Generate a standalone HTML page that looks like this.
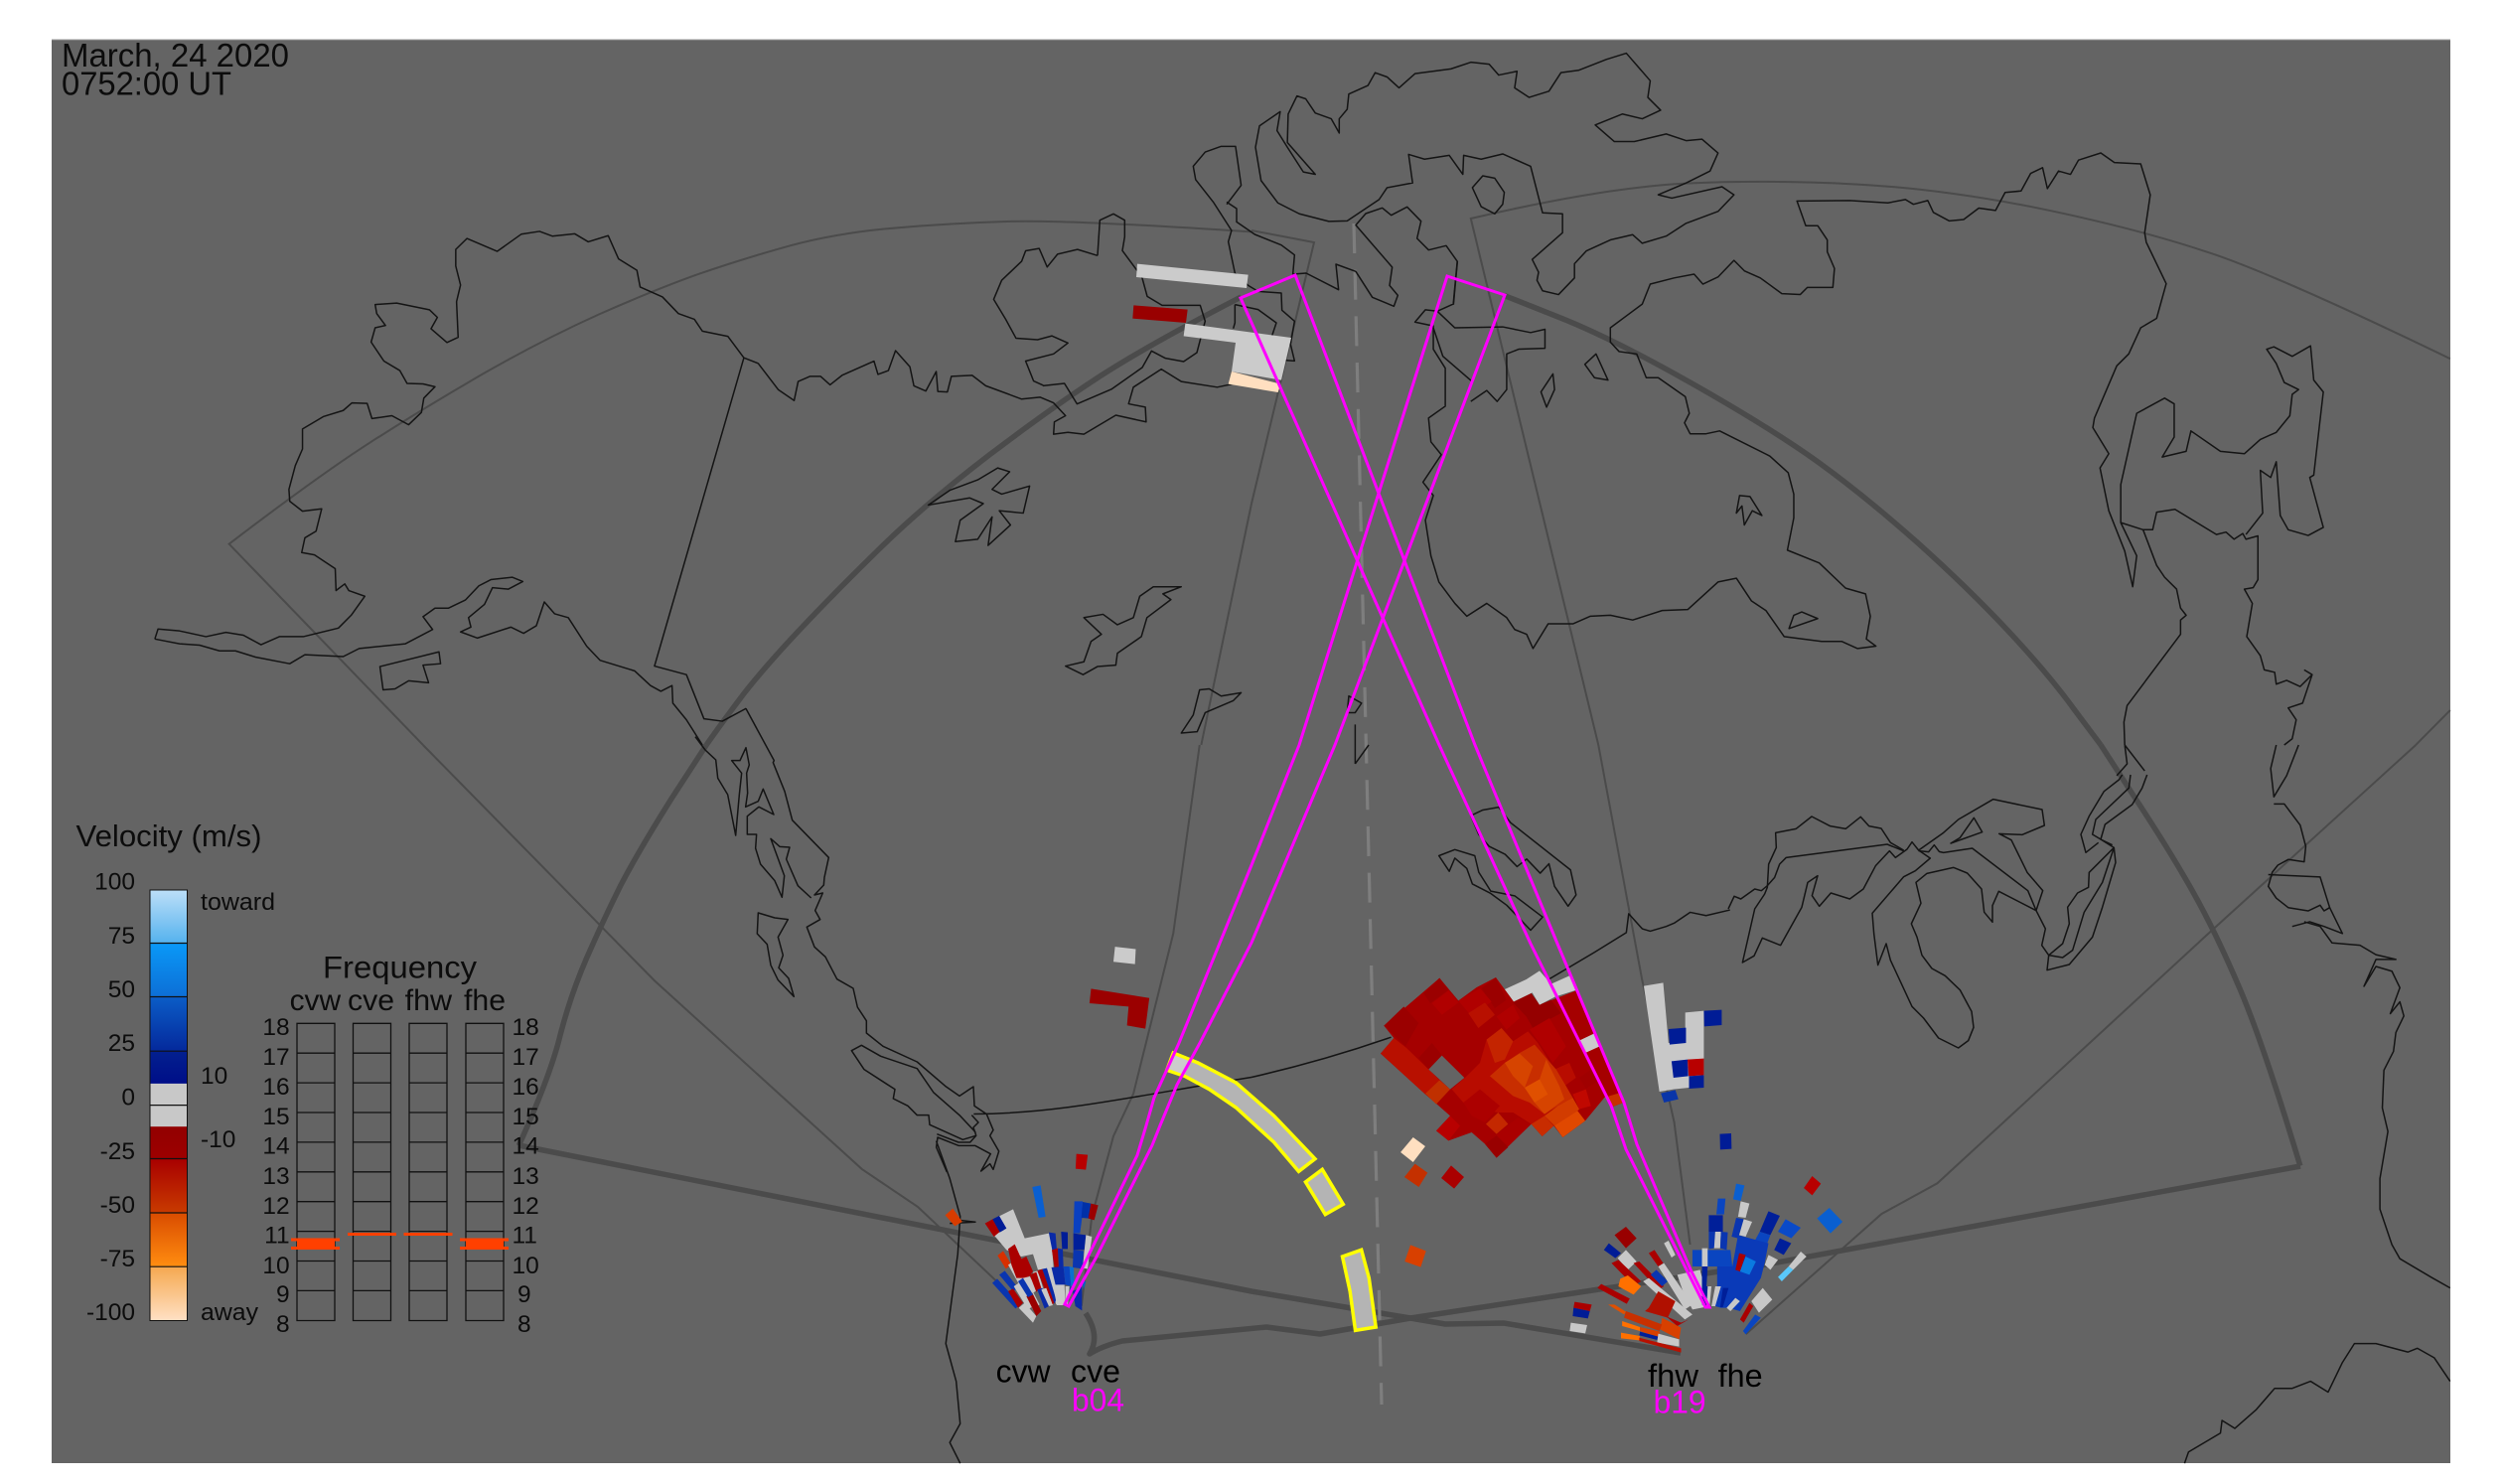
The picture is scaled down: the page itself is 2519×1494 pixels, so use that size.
<!DOCTYPE html>
<html><head><meta charset="utf-8"><title>Velocity map</title>
<style>
html,body{margin:0;padding:0;background:#fff}
svg{display:block}
path,polygon,polyline,rect{vector-effect:non-scaling-stroke}
.c path,.c polygon{fill:none;stroke:#141414;stroke-width:1.5;stroke-linejoin:round}
.t path{fill:none;stroke:#4b4b4b;stroke-width:2}
.k{fill:none;stroke:#4b4b4b;stroke-width:5.5;stroke-linejoin:round}
.y polygon{fill:#b4b4b4;stroke:#ffff00;stroke-width:3.5}
.m{fill:none;stroke:#ff00ff;stroke-width:3;stroke-linejoin:miter}
text{font-family:"Liberation Sans",sans-serif;fill:#0c0c0c}
.l{font-size:24.5px}
.rt{text-anchor:end}
</style></head><body>
<svg xmlns="http://www.w3.org/2000/svg" width="2519" height="1494" viewBox="0 0 2519 1494">
<defs>
<linearGradient id="cb" x1="0" y1="0" x2="0" y2="1">
<stop offset="0" stop-color="#bcdff8"/><stop offset=".124" stop-color="#55b2ee"/>
<stop offset=".125" stop-color="#0a98f7"/><stop offset=".248" stop-color="#0d6fd6"/>
<stop offset=".25" stop-color="#0b5cc6"/><stop offset=".373" stop-color="#04299c"/>
<stop offset=".375" stop-color="#02208f"/><stop offset=".449" stop-color="#000e88"/>
<stop offset=".45" stop-color="#c8c8c8"/><stop offset=".549" stop-color="#c8c8c8"/>
<stop offset=".55" stop-color="#920000"/><stop offset=".624" stop-color="#9d0000"/>
<stop offset=".625" stop-color="#a80000"/><stop offset=".748" stop-color="#c83a00"/>
<stop offset=".75" stop-color="#d94c00"/><stop offset=".873" stop-color="#ff8c10"/>
<stop offset=".875" stop-color="#f5a850"/><stop offset="1" stop-color="#ffe0c4"/>
</linearGradient>
</defs>
<rect width="2519" height="1494" fill="#fff"/>
<rect x="52" y="40" width="2415" height="1433" fill="#646464"/>
<rect x="52" y="39.5" width="2415" height="1" fill="#9a9a9a"/>

<!-- thin FOV lines -->
<g class="t">
<g transform="scale(.80357,.4783)">
<path d="M1568 488 Q1345 463 1267 466 Q1190 470 1120 480 Q1050 490 990 517 Q930 545 875 577 Q820 610 750 662 Q680 715 605 787 Q530 860 465 930 Q400 1000 287 1145 L530 1568"/>
<path d="M1568 1060 L1505 1568"/>
</g>
<g transform="translate(0,750) scale(.80357,.4745)">
<path d="M530 0 L820 500 L1080 900 L1150 980 L1250 1140"/>
<path d="M1503 0 L1470 400 L1420 740 L1395 830 L1368 1000 L1355 1190"/>
</g>
<path d="M1260 232 L1323 244 L1260 507"/>
<g transform="translate(1260,0) scale(.8029,.4783)">
<path d="M435 1568 L275 460 Q440 395 545 386 Q650 378 760 388 Q870 398 995 441 Q1120 485 1210 537 Q1300 590 1503 755"/>
<path d="M1503 1495 L1460 1568"/>
</g>
<g transform="translate(1260,750) scale(.8029,.4745)">
<path d="M435 0 L490 500 L530 800 L550 1060"/>
<path d="M1460 0 L1200 400 L860 930 L790 995 L620 1250"/>
</g>
</g>

<!-- thick FOV lines -->
<g transform="scale(.80357,.4783)"><path class="k" d="M1555 625 Q1440 725 1380 790 Q1320 855 1240 957 Q1160 1060 1105 1150 Q1050 1240 1005 1320 Q960 1400 932 1460 Q905 1520 885 1568"/></g>
<g transform="translate(0,750) scale(.80357,.4745)"><path class="k" d="M885 0 L842 112 Q800 225 777 300 Q755 375 735 452 Q715 530 702 615 Q690 700 650 850"/></g>
<path class="k" d="M522 1153 L1260 1300 L1420 1327 L1455 1333 L1514 1332 L1692 1362"/>
<g transform="translate(1260,0) scale(.8029,.4783)"><path class="k" d="M317 622 L383 666 Q450 710 550 805 Q650 900 710 972 Q770 1045 835 1142 Q900 1240 950 1330 Q1000 1420 1032 1494 L1065 1568"/></g>
<g transform="translate(1260,750) scale(.8029,.4745)"><path class="k" d="M1065 0 L1107 110 Q1150 220 1180 310 Q1210 400 1240 520 Q1270 640 1315 893"/></g>
<path class="k" d="M2316 1174 L1778 1273 L1610 1298 L1420 1327 L1386 1333 L1329 1343 L1275 1336 L1130 1350 Q1110 1355 1097 1363 Q1108 1345 1093 1322"/>

<!-- center dash -->
<path d="M1363 225 L1391 1414" fill="none" stroke="#7e7e7e" stroke-width="3.2" stroke-dasharray="30 16.7"/>

<!-- coastlines -->
<g class="c">
<g transform="scale(.80357,.4783)">
<path d="M194 1345 L198 1324 L225 1328 L258 1340 L283 1331 L305 1337 L327 1357 L350 1340 L380 1340 L424 1322 L440 1295 L457 1255 L437 1243 L432 1229 L421 1243 L420 1197 L394 1168 L378 1163 L382 1132 L396 1118 L403 1071 L379 1076 L363 1055 L362 1030 L370 980 L379 945 L379 903 L405 877 L430 864 L441 848 L460 849 L466 881 L491 875 L512 894 L528 868 L531 838 L545 814 L530 808 L510 807 L501 780 L481 760 L465 720 L470 690 L483 685 L472 660 L470 641 L497 638 L538 652 L548 668 L540 692 L560 721 L574 710 L572 635 L577 600 L571 560 L571 525 L585 502 L623 529 L653 493 L676 487 L692 497 L720 492 L737 509 L762 496 L775 545 L798 569 L802 604 L830 625 L850 660 L870 672 L880 697 L912 708 L932 753 L950 765 L975 820 L995 843 L1000 803 L1015 792 L1028 792 L1040 810 L1055 790 L1095 760 L1100 788 L1113 780 L1122 738 L1140 772 L1145 812 L1160 823 L1173 782 L1175 824 L1187 825 L1192 792 L1218 790 L1235 812 L1280 840 L1303 836 L1320 848 L1335 875 L1321 888 L1320 914 L1338 910 L1358 914 L1398 874 L1436 888 L1435 857 L1414 850 L1420 815 L1455 777 L1480 803 L1525 815 L1568 800"/>
<path d="M194 1345 L225 1355 L250 1358 L275 1370 L295 1370 L320 1383 L363 1397 L382 1378 L430 1382 L450 1365 L508 1355 L542 1325 L530 1298 L545 1280 L562 1280 L583 1263 L600 1233 L615 1220 L642 1215 L655 1224 L637 1240 L617 1237 L607 1272 L587 1300 L590 1320 L577 1330 L598 1343 L640 1320 L656 1333 L672 1317 L682 1267 L695 1292 L712 1300 L735 1360 L752 1390 L795 1412 L815 1443 L828 1455 L842 1443 L843 1480 L860 1515 L880 1568"/>
<path d="M932 753 L820 1402 L860 1420 L882 1513 L905 1518 L935 1491"/>
<path d="M1250 985 L1265 993 L1243 1030 L1255 1040 L1290 1023 L1282 1080 L1252 1075 L1266 1105 L1238 1148 L1243 1088 L1225 1135 L1197 1140 L1203 1095 L1232 1060 L1215 1048 L1163 1063 L1190 1032 L1225 1010 Z"/>
<path d="M1445 1235 L1480 1235 L1457 1250 L1467 1262 L1437 1300 L1430 1340 L1400 1375 L1398 1400 L1375 1403 L1357 1420 L1335 1402 L1358 1393 L1367 1350 L1380 1335 L1358 1300 L1382 1293 L1400 1315 L1420 1300 L1428 1255 Z"/>
<path d="M1503 1452 L1515 1450 L1530 1465 L1555 1458 L1545 1475 L1510 1500 L1500 1540 L1480 1543 L1495 1505 Z"/>
<path d="M476 1403 L550 1372 L552 1397 L530 1400 L537 1437 L512 1433 L495 1450 L480 1452 Z"/>
<path d="M1537 430 L1555 390 L1548 308 L1530 308 L1510 320 L1495 350 L1498 378 L1520 425 L1543 485"/>
<path d="M1307 811 L1295 802 L1285 760 L1320 745 L1338 722 L1318 707 L1300 715 L1273 712 L1260 672 L1245 630 L1255 590 L1280 550 L1285 528 L1302 523 L1312 562 L1325 535 L1350 525 L1375 538"/>
</g>
<g transform="translate(1050,200) scale(.33333)">
<path d="M165 172 L172 65 L213 46 L247 65 L247 115 L240 157 L283 215 L300 240 L315 295 L360 322 L475 322 L490 370 L465 465 L425 492 L370 482 L328 460 L300 510 L208 575 L103 620 L65 558 L0 565"/>
<path d="M570 95 L560 130 L580 225 L620 262 L650 280 L720 285 L722 337 L760 370 L748 440 L760 490 L720 487"/>
<path d="M555 10 L585 30 L585 70 L640 108 L720 140 L760 170 L755 228 L795 225 L893 275 L885 198 L945 220 L995 298 L1060 325 L1072 292 L1047 262 L1055 207 L945 80 L975 45 L1025 28 L1052 50 L1100 25 L1142 68 L1130 120 L1165 155 L1218 142 L1252 190 L1240 320"/>
<path d="M580 320 L580 375 L575 392 M580 320 L650 335 L705 375 L690 420"/>
</g>
<g transform="translate(1260,0) scale(.8029,.4783)">
<path d="M120 465 L97 466 L60 450 L33 427 L12 380 L5 310 L10 265 L36 235 L32 275 L45 310 L65 362 L80 367 L45 300 L46 240 L57 202 L68 208 L80 238 L100 250 L110 280 L110 250 L120 230 L122 198 L146 180 L155 153 L170 162 L185 185 L205 155 L250 145 L275 131 L298 135 L310 158 L333 150 L330 185 L348 205 L373 192 L388 153 L410 148 L445 125 L470 112 L500 170 L497 205 L513 232 L490 250 L465 240 L431 263 L455 298 L480 298 L520 282 L545 296 L565 293 L585 322 L575 360 L545 385 L510 410 L527 417 L590 393 L605 410 L585 445 L545 470 L520 497 L490 512 L478 494 L450 505 L420 528 L405 555 L405 585 L385 620 L365 612 L358 590 L360 573 L352 546 L390 490 L390 450 L365 448 L350 350 L315 324 L288 335 L266 327 L265 367 L248 327 L217 335 L197 325 L202 385 L170 395 L160 420 Z"/>
<path d="M258 550 L253 640 L233 655 L218 652 L205 678 L228 686 L228 735 L243 775 L243 855 L222 880 L225 930 L238 957 L215 1015 L228 1043 L218 1095 L225 1170 L235 1225 L255 1270 L270 1297 L295 1270 L320 1300 L330 1325 L345 1335 L353 1365 L372 1313 L403 1313 L425 1297 L450 1295 L478 1305 L515 1285 L547 1283 L585 1225 L608 1217 L627 1265 L645 1285 L668 1340 L715 1350 L740 1350 L760 1365 L783 1360 L771 1345 L776 1297 L770 1250 L745 1238 L712 1185 L672 1158 L680 1090 L680 1040 L673 995 L650 960 L587 907 L570 913 L550 913 L543 890 L549 870 L544 835 L510 795 L495 795 L483 745 L461 740 L450 720 L450 690 L470 665 L490 640 L500 598 L530 585 L555 577 L566 598 L585 583 L605 548 L618 570 L638 585 L665 618 L688 620 L697 605 L729 605 L731 565 L722 530 L722 505 L710 475 L695 475 L684 423 L750 422 L798 427 L820 420 L830 430 L848 422 L855 447 L875 465 L893 462 L912 438 L933 443 L945 405 L965 402 L977 365 L992 353 L998 397 L1012 360 L1027 367 L1037 337 L1065 322 L1082 342 L1115 345 L1127 410 L1120 490 L1122 510 L1147 597 L1135 670 L1115 690 L1100 745 L1085 770 L1057 880 L1055 900 L1075 955 L1064 985 L1075 1075 L1095 1160 L1105 1235 L1110 1170 L1090 1100 L1090 1020 L1110 870 L1145 838 L1157 850 L1157 920 L1142 962 L1172 950 L1178 907 L1215 950 L1245 955 L1265 925 L1285 910 L1302 875 L1305 830 L1313 820 L1295 805 L1285 765 L1273 735 L1282 730 L1305 750 L1328 728 L1332 800 L1344 825 L1332 1000 L1327 1005 L1344 1110 L1325 1127 L1300 1115 L1290 1085 L1285 972 L1278 1005 L1265 990 L1268 1080 L1247 1125"/>
<path d="M1090 1100 L1118 1115 L1130 1115 L1135 1078 L1158 1072 L1210 1125 L1222 1120 L1232 1135 L1243 1123 L1247 1135 L1262 1128 L1262 1220 L1256 1237 L1245 1240 L1255 1270 L1248 1340 L1265 1380 L1270 1410 L1283 1415 L1285 1440 L1298 1432 L1315 1445 L1330 1420 L1320 1410 M1330 1420 L1322 1460 L1318 1480 L1300 1490 L1310 1515 L1305 1555 L1295 1568"/>
<path d="M1118 1115 L1135 1190 L1145 1215 L1160 1240 L1165 1280 L1172 1295 L1165 1305 L1165 1335 L1098 1485 L1094 1520 L1095 1568"/>
<path d="M233 655 L255 690 L315 688 L350 700 L368 693 L368 733 L335 735 L320 745 L320 820 L308 845 L295 822 L275 845 M228 690 L240 750 L278 805"/>
<path d="M290 370 L305 375 L317 405 L315 430 L305 450 L288 435 L277 395 Z"/>
<path d="M432 745 L447 800 L430 795 L418 767 Z"/>
<path d="M378 787 L380 820 L370 857 L363 825 Z"/>
<path d="M612 1043 L625 1045 L640 1085 L628 1075 L618 1105 L615 1065 L608 1080 Z"/>
<path d="M690 1288 L710 1302 L674 1323 L680 1295 Z"/>
<path d="M122 1465 L120 1500 L130 1500 L138 1480 Z M130 1525 L130 1568"/>
</g>
<!-- BC coast -->
<g transform="translate(700,700) scale(.33333)">
<path d="M153 40 L238 197 L235 203 L270 290 L293 377 L403 490 L390 550 L388 573 L360 603 L385 597 L362 650 L377 677 L337 700 L360 760 L393 790 L428 857 L477 885 L490 942 L517 983 L517 1020 L567 1060 L670 1107 L755 1180 L798 1210 L840 1182 L843 1240 L880 1265 L900 1313 L890 1330 L917 1377 L900 1432 L890 1415 L863 1437 L892 1385 L845 1360 L795 1360 L732 1335 L728 1365 L760 1440"/>
<path d="M0 125 L30 165 L62 195 L68 250 L98 300 L122 423 L133 300 L140 235 L110 197 L135 197 L153 158 L163 210 L155 235 L158 295 L152 337 L190 320 L205 283 L237 360 L192 337 L157 365 L157 420 L185 420 L182 462 L197 510 L240 560 L262 610 L269 545 L228 433 L255 457 L285 459 L275 495 L310 575 L350 612"/>
<path d="M190 657 L240 672 L280 677 L250 730 L265 785 L252 823 L282 855 L298 910 L250 860 L228 815 L217 752 L187 720 Z"/>
<path d="M472 1073 L502 1057 L560 1090 L670 1127 L720 1200 L800 1270 L845 1318 L848 1330 L808 1342 L708 1297 L705 1268 L670 1268 L642 1240 L598 1218 L603 1190 L510 1130 Z"/>
<path d="M835 1268 L855 1290 L840 1305 L845 1320 M730 1325 L795 1350 L830 1350 L848 1330"/>
</g>
<g transform="translate(0,750) scale(.80357,.4745)">
<path d="M1173 840 L1190 920 L1203 1000 L1200 1080 L1185 1270 L1198 1350 L1203 1440 L1190 1480 L1203 1524"/>
<path d="M1220 783 C1330 782 1420 745 1568 705"/>
<path d="M1200 1008 L1222 1012 L1190 1015"/>
</g>
<!-- Great lakes -->
<g transform="translate(1740,780) scale(.33333)">
<path d="M0 405 L18 367 L38 375 L80 345 L100 350 L118 335 L140 310 L155 270 L175 250 L480 210 L530 230"/>
<path d="M530 228 L490 205 L462 162 L425 155 L400 127 L355 163 L308 155 L252 126 L205 163 L143 175 L145 220 L122 270 L118 340 L110 360 L80 405 L43 567 L78 547 L103 493 L158 515 L222 400 L240 325 L270 305 L253 365 L275 397 L310 357 L367 375 L408 345 L445 275 L487 230 L505 250 L540 225 L555 203 L575 228 L610 252 L565 290 L530 308 L435 418 L440 480 L452 575 L477 510 L490 560 L555 700 L590 735 L635 795 L695 825 L725 803 L741 763 L735 715 L700 650 L655 607 L615 585 L585 545 L570 490 L553 450 L582 388 L567 325 L600 298 L680 280 L722 297 L765 345 L773 415 L798 445 L798 395 L817 352 L930 410 L950 350 L903 295 L855 197 L818 178 L888 181 L955 153 L948 105 L800 74 L695 135 L650 175 L575 228"/>
<path d="M672 207 L700 190 L742 130 L767 173 Z"/>
<path d="M575 230 L605 233 L622 212 L637 232 L650 235 L737 222 L905 350 L930 410 L958 465 L947 515 L968 545 L1010 552 L1040 530 L1075 415 L1130 325 L1165 220 L1170 265 L1130 400 L1100 490 L1030 573 L963 590 L968 545 L1010 510 L1030 450 L1025 400 L1055 357 L1088 340 L1090 295 L1165 220 L1125 195 L1100 180 L1110 135 L1210 40 L1215 0"/>
<path d="M1160 212 L1125 195 L1138 150 L1220 90 L1250 40 L1265 0"/>
<path d="M1118 205 L1080 235 L1065 180 L1090 125 L1135 50 L1180 15 L1190 0"/>
</g>
<g transform="translate(1260,750) scale(.8029,.4745)">
<path d="M0 705 Q90 670 175 620 M370 500 L430 440 L470 398 L473 358 L490 390 L500 395 L520 385 L530 378 L550 355 L570 362 L600 350"/>
<path d="M1095 0 L1120 55 M1095 0 L1098 40 L1085 65"/>
<path d="M1285 0 L1278 50 L1282 110 L1298 65 L1313 0"/>
<path d="M1282 125 L1295 125 L1315 170 L1322 215 L1320 248 L1300 243 L1287 255 L1280 270 L1275 300 L1285 325 L1300 345 L1325 352 L1340 340 L1345 352 L1352 345 L1368 400 L1345 385 L1327 375 L1305 385"/>
<path d="M1275 275 L1340 280 L1352 345"/>
<path d="M1320 375 L1340 385 L1355 420 L1390 425 L1410 445 L1435 455 L1410 455 L1395 512 L1410 470 L1430 480 L1440 515 L1428 570 L1440 545 L1445 575 L1435 610 L1432 650 L1420 690 L1418 770 L1425 820 L1415 920 L1415 985 L1430 1060 L1440 1090 L1480 1130 L1503 1152"/>
<path d="M1170 1524 L1175 1500 L1215 1460 L1217 1433 L1233 1450 L1260 1410 L1283 1365 L1305 1365 L1328 1350 L1350 1373 L1368 1310 L1383 1270 L1410 1270 L1450 1288 L1462 1280 L1483 1300 L1503 1350"/>
<path d="M275 150 L290 138 L310 132 L325 165 L400 265 L407 318 L397 342 L380 300 L373 252 L362 272 L345 242 L333 258 L318 232 L298 215 L285 190 Z"/>
<path d="M235 235 L255 222 L280 235 L285 270 L300 310 L330 320 L365 365 L350 393 L320 340 L300 315 L277 295 L270 262 L255 240 L248 268 Z"/>
<path d="M130 40 L147 0 M130 0 L130 40"/>
</g>
</g>

<!-- top cells -->
<g transform="translate(1050,200) scale(.33333)">
<polygon fill="#cbcbcb" points="285,197 620,230 615,270 282,237"/>
<polygon fill="#990000" points="274,322 437,335 432,375 271,362"/>
<polygon fill="#cbcbcb" points="430,377 750,420 720,548 570,522 582,435 425,415"/>
<polygon fill="#ffdfc0" points="570,522 718,560 710,585 560,560"/>
</g>
<g transform="translate(0,750) scale(.80357,.4745)">
<polygon fill="#cbcbcb" points="1397,428 1423,433 1422,465 1395,460"/>
<polygon fill="#9b0000" points="1367,517 1440,537 1435,602 1412,595 1414,555 1365,548"/>
</g>

<!-- yellow boxes -->
<g class="y" transform="translate(900,1050) scale(.38265,.33333)">
<polygon points="735,30 800,60 900,120 1000,220 1108,350 1065,388 1000,300 900,195 830,140 765,100 718,82"/>
<polygon points="1127,382 1182,487 1135,518 1083,420"/>
<polygon points="1180,645 1230,625 1250,710 1268,858 1214,868 1200,750"/>
<polygon style="stroke:none;fill:#cccccc" points="735,36 780,56 765,96 722,78"/>
</g>

<!-- cve / cvw fan -->
<g transform="translate(900,1050) scale(.38265,.33333)">
<polygon fill="#b80000" points="480,335 510,338 505,383 478,380"/>
<polygon fill="#d83c00" points="135,520 155,500 180,540 160,553"/>
</g>
<g transform="translate(980,1190) scale(.33333)">
<polygon fill="#0a5fd0" points="178,15 203,10 218,105 197,108"/>
<polygon fill="#0a40c0" points="305,58 330,58 328,110 322,155 302,155"/>
<polygon fill="#0030a8" points="330,60 355,65 350,110 326,108"/>
<polygon fill="#9b0000" points="355,65 377,70 365,115 347,110"/>
<polygon fill="#001f99" points="302,155 340,160 335,205 302,205"/>
<polygon fill="#c8c8c8" points="340,160 358,165 345,262 330,260"/>
<polygon fill="#0a35b0" points="302,205 333,208 330,262 300,258"/>
<polygon fill="#0a2aa6" points="228,152 248,155 252,205 235,205"/>
<polygon fill="#001c96" points="265,150 285,152 285,202 268,202"/>
<polygon fill="#c8c8c8" points="78,103 120,82 155,170 228,155 238,205 242,258 195,265 180,218 145,225 100,205 62,160 92,145"/>
<polygon fill="#aa0000" points="35,125 58,112 80,150 62,165"/>
<polygon fill="#001c96" points="58,112 78,102 100,140 80,152"/>
<polygon fill="#d83000" points="73,222 90,208 115,250 98,262"/>
<polygon fill="#c8c8c8" points="105,250 130,235 200,370 180,385"/>
<polygon fill="#aa0000" points="105,202 125,188 145,232 160,225 180,270 165,290 130,290 115,250"/>
<polygon fill="#aa0000" points="237,205 255,200 258,258 245,258"/>
<polygon fill="#0a2aa6" points="255,200 270,203 272,255 258,258"/>
<polygon fill="#0a2aa6" points="232,258 272,255 278,310 245,315"/>
<polygon fill="#0a45c0" points="272,255 290,255 295,315 278,310"/>
<polygon fill="#0a70d0" points="290,255 303,258 305,310 295,315"/>
<polygon fill="#c8c8c8" points="220,260 235,255 262,370 250,370"/>
<polygon fill="#c8c8c8" points="180,272 195,268 222,360 212,368"/>
<polygon fill="#aa0000" points="193,268 208,263 245,365 235,372"/>
<polygon fill="#0a2aa6" points="208,263 222,260 250,355 245,368"/>
<polygon fill="#0a35b0" points="57,305 72,292 142,370 127,382"/>
<polygon fill="#0a35b0" points="78,280 95,268 135,320 120,330"/>
<polygon fill="#c8c8c8" points="122,315 137,305 180,375 165,385"/>
<polygon fill="#aa0000" points="105,330 120,322 150,365 135,380"/>
<polygon fill="#c8c8c8" points="137,380 155,365 190,405 180,425"/>
<polygon fill="#9b0000" points="160,345 178,335 205,390 190,405"/>
<polygon fill="#0a35b0" points="135,300 150,290 180,340 165,348"/>
<polygon fill="#c8c8c8" points="150,290 170,285 195,325 180,335"/>
<polygon fill="#aa0000" points="170,280 190,272 205,320 190,332"/>
<polygon fill="#0a2aa6" points="193,325 208,320 228,375 215,382"/>
<polygon fill="#c8c8c8" points="205,325 220,320 240,372 228,375"/>
<polygon fill="#c8c8c8" points="240,310 275,310 278,372 252,372"/>
<polygon fill="#c8c8c8" points="278,315 290,315 285,370 278,370"/>
<polygon fill="#0a35b0" points="292,315 300,318 290,345 288,370"/>
<polygon fill="#0a2aa6" points="300,330 328,315 328,388 308,375"/>
<polygon fill="#0a60c0" points="328,300 340,300 333,325"/>
</g>

<!-- red blob -->
<g transform="translate(1380,970) scale(.33333)">
<polygon fill="#a50000" points="40,188 208,44 265,112 320,72 378,42 432,115 485,90 510,125 625,80 768,418 725,435 710,400 648,475 580,525 553,490 518,522 485,485 380,587 345,545 305,510 235,535 198,505 240,460 200,425 165,395 30,272 70,225"/>
<polygon fill="#9b0000" points="40,188 100,130 145,180 105,250"/>
<polygon fill="#9b0000" points="160,90 208,44 235,80 180,120"/>
<polygon fill="#950000" points="430,118 485,90 510,125 545,110 575,150 490,195 470,160"/>
<polygon fill="#9b0000" points="335,75 378,42 410,110 375,135"/>
<polygon fill="#b00000" points="185,120 235,82 265,118 215,155"/>
<polygon fill="#b00000" points="265,112 330,75 365,115 305,160"/>
<polygon fill="#b81000" points="295,150 345,118 375,155 325,195"/>
<polygon fill="#b00000" points="380,160 430,125 450,165 410,200"/>
<polygon fill="#b81000" points="30,272 70,225 108,255 175,320 208,352 165,395"/>
<polygon fill="#9b0000" points="145,285 185,240 218,280 175,320"/>
<polygon fill="#c03000" points="208,352 240,380 198,425 165,393"/>
<polygon fill="#b80000" points="240,460 270,490 235,535 198,505"/>
<polygon fill="#b00000" points="480,200 540,165 590,250 550,300 510,240"/>
<polygon fill="#b80c00" points="245,380 285,345 330,300 350,230 395,195 430,235 475,205 505,240 555,320 600,300 620,345 585,370 610,405 560,430 525,460 485,485 430,450 385,450 320,440 280,420"/>
<polygon fill="#ac0000" points="280,420 330,380 390,430 345,480 305,460"/>
<polygon fill="#c42400" points="350,230 395,195 430,235 405,290 375,300"/>
<polygon fill="#c82e00" points="360,340 405,300 450,270 495,245 560,320 590,370 610,405 565,430 525,455 480,420 430,400"/>
<polygon fill="#d64400" points="405,300 450,272 490,310 465,375 430,340"/>
<polygon fill="#d64400" points="465,375 510,350 530,290 570,370 585,410 525,455 495,420"/>
<polygon fill="#e05000" points="465,375 510,350 535,395 495,420"/>
<polygon fill="#d23c00" points="525,460 565,430 610,405 630,440 580,490 555,490"/>
<polygon fill="#e04800" points="555,490 625,445 648,475 580,525"/>
<polygon fill="#c82c00" points="485,485 525,460 553,490 518,522"/>
<polygon fill="#c42800" points="348,485 385,450 415,485 380,515"/>
<polygon fill="#990000" points="345,545 380,520 415,555 380,587"/>
<polygon fill="#aa0000" points="380,517 445,465 485,485 415,550"/>
<polygon fill="#c00800" points="610,395 650,380 665,430 630,440"/>
<polygon fill="#a00000" points="630,345 675,315 695,350 650,378"/>
<polygon fill="#c83000" points="715,402 755,390 768,418 725,435"/>
<polygon fill="#646464" points="215,278 283,345 240,380 175,320"/>
<polygon fill="#cbcbcb" points="405,78 470,48 510,22 545,62 605,35 622,80 558,100 510,125 488,88 432,115"/>
<polygon fill="#cbcbcb" points="625,235 678,210 697,248 648,270"/>
</g>

<!-- fhw/fhe -->
<g transform="translate(1350,950) scale(.38265,.33333)">
<polygon fill="#c8c8c8" points="797,128 848,118 862,300 906,300 906,208 955,203 955,400 916,402 916,435 875,440 838,447"/>
<polygon fill="#001c96" points="955,203 1002,200 1002,246 956,250"/>
<polygon fill="#001c96" points="862,258 908,254 908,300 865,305"/>
<polygon fill="#001c96" points="870,355 912,350 914,400 875,405"/>
<polygon fill="#b80000" points="912,350 955,347 955,397 915,400"/>
<polygon fill="#001c96" points="916,400 955,397 955,435 916,438"/>
<polygon fill="#0a35a8" points="842,452 880,442 888,470 850,480"/>
<polygon fill="#001c96" points="997,575 1027,573 1028,620 998,622"/>

<polygon fill="#ffdfc0" points="190,585 222,612 190,660 157,630"/>
<polygon fill="#c43000" points="195,665 228,692 205,735 167,705"/>
<polygon fill="#aa0000" points="290,670 324,705 298,740 264,708"/>
<polygon fill="#d84000" points="183,910 224,928 210,977 168,960"/>
<polygon fill="#b80000" points="1240,702 1263,725 1240,760 1218,738"/>
<polygon fill="#0a5fd0" points="1285,798 1320,840 1288,875 1253,830"/>

<polygon fill="#990000" points="720,880 750,855 778,890 750,920"/>
<polygon fill="#c8c8c8" points="728,950 750,925 778,960 755,985"/>
<polygon fill="#001c96" points="692,925 705,905 737,935 722,950"/>
<polygon fill="#aa0000" points="712,965 730,955 790,1020 770,1033"/>
<polygon fill="#aa0000" points="770,965 785,960 850,1035 835,1045"/>
<polygon fill="#aa0000" points="810,935 825,925 848,965 835,975"/>
<polygon fill="#0a35b0" points="815,1000 830,985 860,1020 845,1035"/>
<polygon fill="#c8c8c8" points="850,905 862,897 880,940 870,948"/>
<polygon fill="#c8c8c8" points="835,975 850,965 925,1090 905,1105"/>
<polygon fill="#c8c8c8" points="795,1020 810,1010 925,1120 905,1135"/>
<polygon fill="#aa0000" points="615,1082 660,1090 655,1110 612,1100"/>
<polygon fill="#001c96" points="612,1100 655,1110 650,1132 610,1125"/>
<polygon fill="#c8c8c8" points="605,1145 648,1152 643,1177 602,1170"/>
<polygon fill="#c8c8c8" points="885,1000 945,985 970,1095 925,1105 900,1050"/>
<polygon fill="#b01000" points="810,1100 835,1050 880,1080 860,1130 800,1110"/>
<polygon fill="#aa0000" points="855,1125 895,1145 915,1135 885,1155"/>
<polygon fill="#d84000" points="845,1130 895,1160 890,1195 840,1165"/>
<polygon fill="#c83000" points="750,1110 845,1150 838,1170 745,1130"/>
<polygon fill="#e05000" points="703,1090 720,1090 750,1112 745,1120"/>
<polygon fill="#ff7000" points="740,1140 787,1158 787,1170 740,1155"/>
<polygon fill="#ff7000" points="737,1175 787,1185 785,1198 737,1192"/>
<polygon fill="#d84000" points="787,1158 840,1172 835,1190 787,1170"/>
<polygon fill="#001f99" points="787,1172 835,1187 832,1197 785,1183"/>
<polygon fill="#c8c8c8" points="835,1178 890,1195 890,1217 832,1205"/>
<polygon fill="#b81000" points="785,1190 895,1222 895,1235 785,1200"/>
<polygon fill="#ff7000" points="735,1012 755,1002 790,1035 770,1060 730,1035"/>
<polygon fill="#aa0000" points="675,1040 685,1028 760,1072 752,1088"/>

<polygon fill="#0a5fd0" points="1040,725 1062,730 1052,777 1032,772"/>
<polygon fill="#0a45c0" points="992,770 1012,770 1008,818 988,818"/>
<polygon fill="#c8c8c8" points="1052,778 1075,785 1065,828 1045,825"/>
<polygon fill="#001f99" points="968,820 1005,820 1005,870 968,870"/>
<polygon fill="#0a35b0" points="968,870 985,870 982,920 968,922"/>
<polygon fill="#c8c8c8" points="985,870 1000,870 998,920 982,920"/>
<polygon fill="#0a35b0" points="1000,870 1018,872 1015,925 998,920"/>
<polygon fill="#0a35b0" points="1040,828 1060,832 1045,890 1028,885"/>
<polygon fill="#c8c8c8" points="1060,832 1082,840 1065,885 1048,880"/>
<polygon fill="#001f99" points="1125,808 1155,822 1130,880 1102,870"/>
<polygon fill="#0a45c0" points="1102,870 1130,880 1115,925 1090,895"/>
<polygon fill="#0a4ac8" points="1170,832 1210,858 1185,890 1150,870"/>
<polygon fill="#0a45c0" points="925,925 1025,925 1030,975 925,975"/>
<polygon fill="#c8c8c8" points="950,920 965,920 965,975 950,975"/>
<polygon fill="#0a3ab8" points="990,975 1030,975 1045,880 1125,905 1115,965 1105,1010 1050,1110 1020,1100 1000,1100 985,1095 990,1030"/>
<polygon fill="#0a7ae0" points="1065,945 1092,960 1075,1000 1050,990"/>
<polygon fill="#aa0000" points="1048,935 1065,940 1050,990 1038,985"/>
<polygon fill="#c8c8c8" points="1125,940 1150,955 1130,985 1115,970"/>
<polygon fill="#001f99" points="1155,890 1185,905 1165,940 1140,925"/>
<polygon fill="#c8c8c8" points="1210,930 1225,945 1190,985 1178,975"/>
<polygon fill="#5ac8fa" points="1178,975 1190,985 1160,1020 1150,1007"/>
<polygon fill="#c8c8c8" points="1110,1040 1135,1075 1100,1115 1080,1080"/>
<polygon fill="#aa0000" points="1075,1085 1085,1095 1060,1145 1050,1135"/>
<polygon fill="#0a45c0" points="1090,1120 1105,1130 1065,1180 1058,1170"/>
<polygon fill="#c8c8c8" points="1038,1070 1050,1080 1025,1110 1015,1100"/>
<polygon fill="#001f99" points="950,975 965,975 962,1035 950,1035"/>
<polygon fill="#c8c8c8" points="965,1035 975,1035 970,1095 962,1095"/>
<polygon fill="#001f99" points="950,1035 965,1035 962,1095 950,1090"/>
<polygon fill="#c8c8c8" points="985,1035 1000,1035 985,1095 975,1095"/>
<polygon fill="#001f99" points="1005,1040 1020,1040 1005,1098 998,1098"/>
</g>

<!-- magenta beams -->
<polygon class="m" points="1249,300 1304,277 1485,750 1568,950 1635,1110 1648,1152 1702,1278 1721,1316 1717,1316 1637,1157 1622,1113 1541,950 1449,750"/>
<polygon class="m" points="1457,278 1515,297 1344,750 1260,949 1208,1050 1185,1092 1168,1133 1160,1153 1103,1267 1076,1315 1072,1313 1145,1163 1154,1133 1162,1105 1187,1050 1260,871 1308,750"/>

<!-- labels -->
<text x="62" y="67" font-size="33" textLength="229" lengthAdjust="spacingAndGlyphs">March, 24 2020</text>
<text x="62" y="95.7" font-size="33" textLength="171" lengthAdjust="spacingAndGlyphs">0752:00 UT</text>
<g font-size="32.5" style="font-size:32.5px">
<text x="1002.6" y="1391.7" textLength="55" lengthAdjust="spacingAndGlyphs" style="fill:#000">cvw</text>
<text x="1078" y="1391.7" textLength="50" lengthAdjust="spacingAndGlyphs" style="fill:#000">cve</text>
<text x="1079" y="1420.7" textLength="53" lengthAdjust="spacingAndGlyphs" style="fill:#ff00ff">b04</text>
<text x="1659" y="1396" textLength="51" lengthAdjust="spacingAndGlyphs" style="fill:#000">fhw</text>
<text x="1729.6" y="1396" textLength="45" lengthAdjust="spacingAndGlyphs" style="fill:#000">fhe</text>
<text x="1664.6" y="1422.7" textLength="53" lengthAdjust="spacingAndGlyphs" style="fill:#ff00ff">b19</text>
</g>

<!-- colour bar -->
<text x="76.5" y="852" font-size="30.7" textLength="187" lengthAdjust="spacingAndGlyphs">Velocity (m/s)</text>
<rect x="151" y="896" width="37.5" height="433.5" fill="url(#cb)" stroke="#111" stroke-width="1"/>
<g stroke="#111" stroke-width="1.2">
<path d="M151 949.5H188.5M151 1003.5H188.5M151 1058.2H188.5M151 1112.6H188.5M151 1166.5H188.5M151 1221H188.5M151 1275.2H188.5"/>
</g>
<g class="l">
<text class="rt" x="136" y="895.6">100</text><text class="rt" x="136" y="949.8">75</text><text class="rt" x="136" y="1004">50</text>
<text class="rt" x="136" y="1058">25</text><text class="rt" x="136" y="1112.6">0</text><text class="rt" x="136" y="1167">-25</text>
<text class="rt" x="136" y="1221">-50</text><text class="rt" x="136" y="1275">-75</text><text class="rt" x="136" y="1329">-100</text>
<text x="202" y="916" textLength="75" lengthAdjust="spacingAndGlyphs">toward</text>
<text x="202" y="1090.8">10</text><text x="202" y="1155">-10</text>
<text x="202" y="1329" textLength="58" lengthAdjust="spacingAndGlyphs">away</text>
</g>

<!-- frequency -->
<text x="325" y="984.7" font-size="31.5" textLength="155" lengthAdjust="spacingAndGlyphs">Frequency</text>
<g font-size="30">
<text x="291.6" y="1017" textLength="51.5" lengthAdjust="spacingAndGlyphs">cvw</text>
<text x="350" y="1017" textLength="47" lengthAdjust="spacingAndGlyphs">cve</text>
<text x="407.6" y="1017" textLength="47.5" lengthAdjust="spacingAndGlyphs">fhw</text>
<text x="467" y="1017" textLength="42" lengthAdjust="spacingAndGlyphs">fhe</text>
</g>
<g fill="none" stroke="#111" stroke-width="1.3">
<rect x="299" y="1030.3" width="38" height="299.2"/><rect x="355.5" y="1030.3" width="38" height="299.2"/><rect x="412" y="1030.3" width="38" height="299.2"/><rect x="469" y="1030.3" width="38" height="299.2"/>
<path d="M299 1060.2H337M355.5 1060.2H393.5M412 1060.2H450M469 1060.2H507M299 1090.1H337M355.5 1090.1H393.5M412 1090.1H450M469 1090.1H507M299 1120H337M355.5 1120H393.5M412 1120H450M469 1120H507M299 1149.9H337M355.5 1149.9H393.5M412 1149.9H450M469 1149.9H507M299 1179.8H337M355.5 1179.8H393.5M412 1179.8H450M469 1179.8H507M299 1209.7H337M355.5 1209.7H393.5M412 1209.7H450M469 1209.7H507M299 1239.6H337M355.5 1239.6H393.5M412 1239.6H450M469 1239.6H507M299 1269.5H337M355.5 1269.5H393.5M412 1269.5H450M469 1269.5H507M299 1299.4H337M355.5 1299.4H393.5M412 1299.4H450M469 1299.4H507"/>
</g>
<g fill="#ff4000">
<rect x="299" y="1246.5" width="38" height="11.5"/><rect x="293" y="1246.5" width="49" height="3"/><rect x="293" y="1255" width="49" height="3"/>
<rect x="469" y="1246.5" width="38" height="11.5"/><rect x="463" y="1246.5" width="49" height="3"/><rect x="463" y="1255" width="49" height="3"/>
<rect x="350" y="1241" width="49" height="3"/><rect x="406.5" y="1241" width="49" height="3"/>
</g>
<g class="l">
<text class="rt" x="291.6" y="1042">18</text><text class="rt" x="291.6" y="1072">17</text><text class="rt" x="291.6" y="1102">16</text><text class="rt" x="291.6" y="1132">15</text><text class="rt" x="291.6" y="1161.5">14</text><text class="rt" x="291.6" y="1192">13</text><text class="rt" x="291.6" y="1222">12</text><text class="rt" x="291.6" y="1251.5">11</text><text class="rt" x="291.6" y="1282">10</text><text class="rt" x="291.6" y="1311">9</text><text class="rt" x="291.6" y="1341">8</text>
<text x="515.5" y="1042">18</text><text x="515.5" y="1072">17</text><text x="515.5" y="1102">16</text><text x="515.5" y="1132">15</text><text x="515.5" y="1161.5">14</text><text x="515.5" y="1192">13</text><text x="515.5" y="1222">12</text><text x="515.5" y="1251.5">11</text><text x="515.5" y="1282">10</text><text x="521" y="1311">9</text><text x="521" y="1341">8</text>
</g>
</svg>
</body></html>
